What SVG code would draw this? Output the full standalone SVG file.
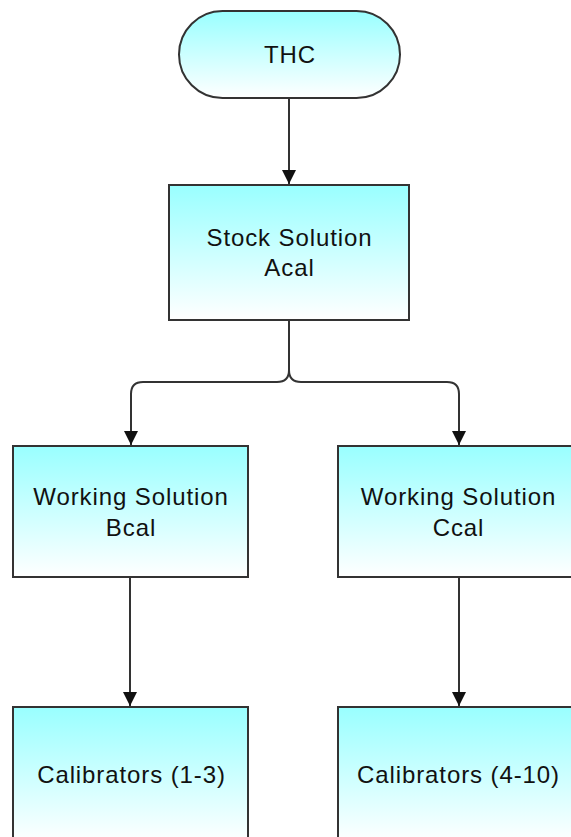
<svg xmlns="http://www.w3.org/2000/svg" width="571" height="837" viewBox="0 0 571 837">
<style>
.node{fill:url(#g);stroke:#333;stroke-width:2}
.t{font-family:"Liberation Sans",Arial,sans-serif;font-size:24px;letter-spacing:0.9px;fill:#111;text-anchor:middle}
.c{fill:none;stroke:#333;stroke-width:2}
</style>
<defs>
<linearGradient id="g" x1="0" y1="0" x2="0" y2="1">
<stop offset="0" stop-color="#99ffff"/>
<stop offset="1" stop-color="#ffffff"/>
</linearGradient>
<marker id="a" viewBox="0 0 14 14" refX="14" refY="7" markerWidth="14" markerHeight="14" markerUnits="userSpaceOnUse" orient="auto">
<path d="M0,0 L14,7 L0,14 Z" fill="#111"/>
</marker>
</defs>
<rect width="571" height="837" fill="#fff"/>
<g id="connectors">
<path class="c" d="M289,98 V184" marker-end="url(#a)"/>
<path class="c" d="M289,320 V370 Q289,382 277,382 H143 Q131,382 131,394 V445" marker-end="url(#a)"/>
<path class="c" d="M289,320 V370 Q289,382 301,382 H447 Q459,382 459,394 V445" marker-end="url(#a)"/>
<path class="c" d="M130,577 V706" marker-end="url(#a)"/>
<path class="c" d="M459,577 V706" marker-end="url(#a)"/>
</g>
<g id="thc">
<rect class="node" x="179" y="11" width="221" height="87" rx="43.5"/>
<text class="t" x="290" y="63">THC</text>
</g>
<g id="stock">
<rect class="node" x="169" y="185" width="240" height="135"/>
<text class="t" x="289.5" y="246">Stock Solution</text>
<text class="t" x="289.5" y="276">Acal</text>
</g>
<g id="bcal">
<rect class="node" x="13" y="446" width="235" height="131"/>
<text class="t" x="131" y="505">Working Solution</text>
<text class="t" x="131" y="536">Bcal</text>
</g>
<g id="ccal">
<rect class="node" x="338" y="446" width="235" height="131"/>
<text class="t" x="458.5" y="505">Working Solution</text>
<text class="t" x="458.5" y="536">Ccal</text>
</g>
<g id="cal13">
<rect class="node" x="13" y="707" width="235" height="136"/>
<text class="t" x="131.5" y="783">Calibrators (1-3)</text>
</g>
<g id="cal410">
<rect class="node" x="338" y="707" width="235" height="136"/>
<text class="t" x="458.5" y="783">Calibrators (4-10)</text>
</g>
</svg>
